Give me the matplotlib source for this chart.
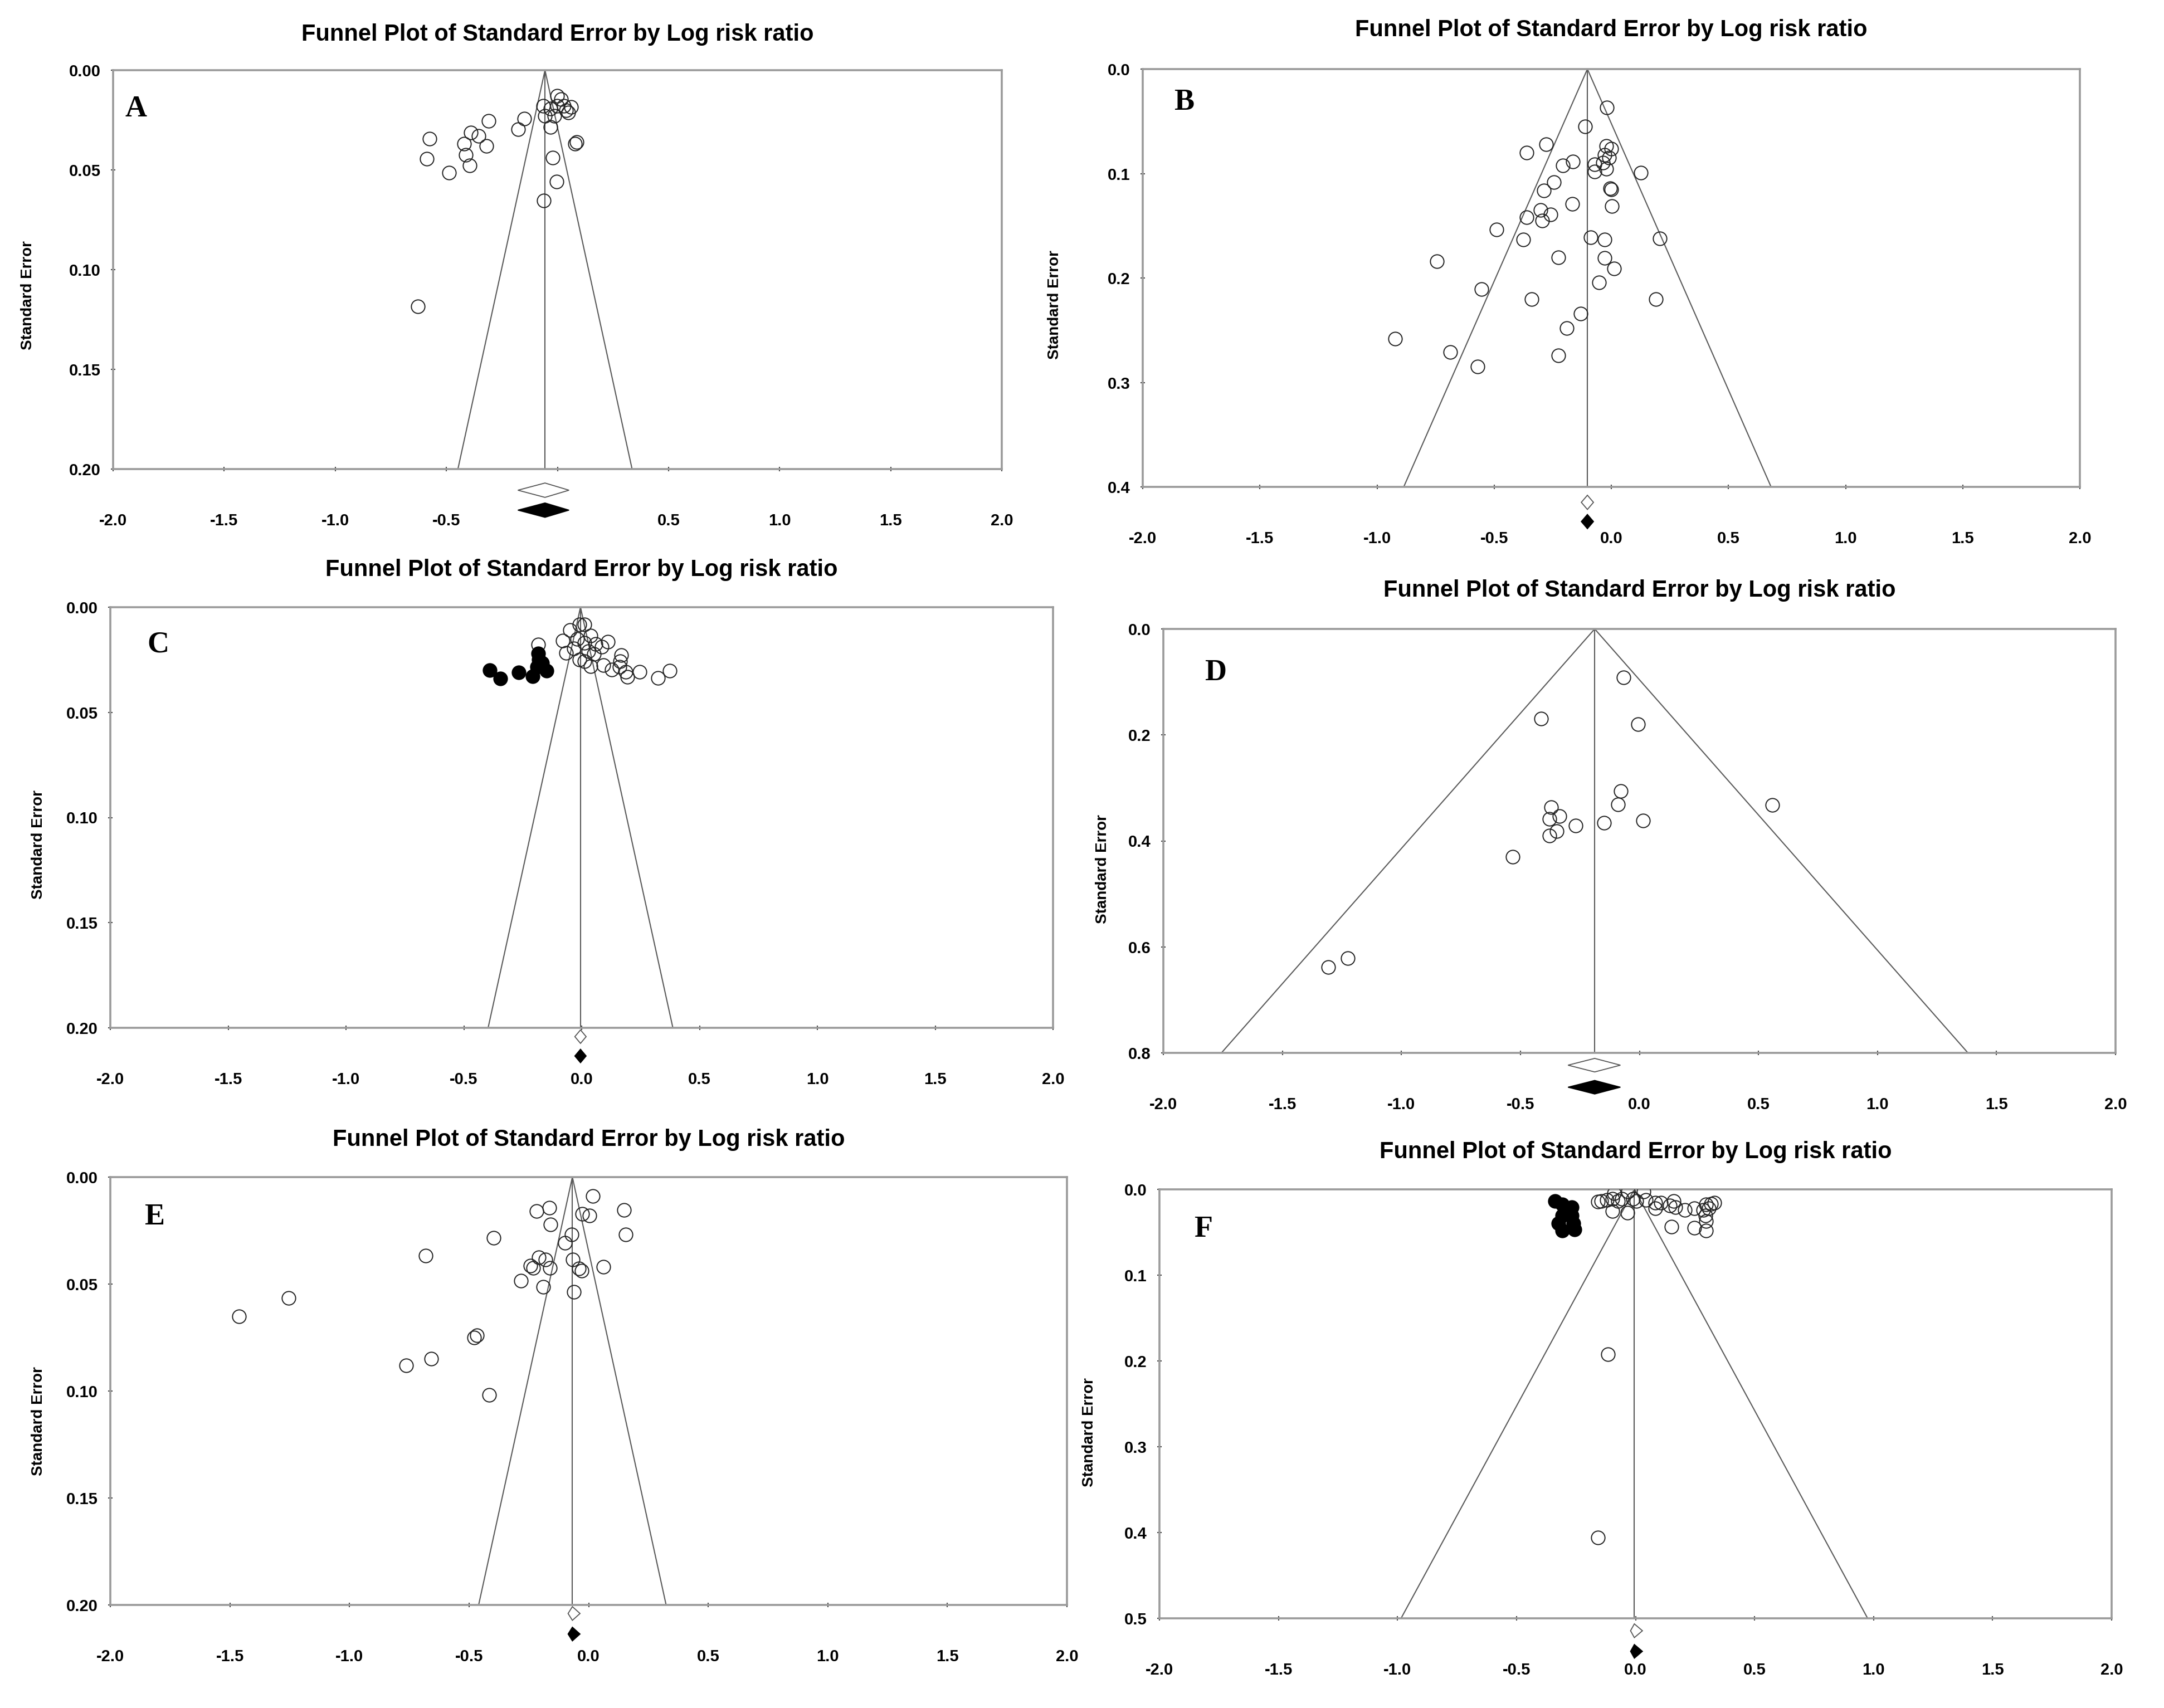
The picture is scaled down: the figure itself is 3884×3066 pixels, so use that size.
import matplotlib
matplotlib.use("Agg")
import matplotlib.pyplot as plt
from matplotlib.patches import Polygon
from matplotlib.transforms import blended_transform_factory

plt.rcParams["font.family"] = ["Liberation Sans", "DejaVu Sans"]

TITLE = "Funnel Plot of Standard Error by Log risk ratio"
XTICKS = [-2.0, -1.5, -1.0, -0.5, 0.0, 0.5, 1.0, 1.5, 2.0]
XTICKLABELS = ["-2.0", "-1.5", "-1.0", "-0.5", "0.0", "0.5", "1.0", "1.5", "2.0"]
XTICKLABELS_A = ["-2.0", "-1.5", "-1.0", "-0.5", "", "0.5", "1.0", "1.5", "2.0"]

# ---- panel A ----
a_x = [-0.576, -0.588, -0.487, -0.421, -0.412, -0.395, -0.389, -0.356, -0.320, -0.309,
       -0.177, -0.148, -0.064, -0.056, -0.031, -0.014, -0.031, -0.001, 0.016, -0.001,
       0.028, 0.040, 0.061, 0.048, 0.087, 0.078, -0.021, -0.003, -0.062, -0.629]
a_se = [0.0343, 0.0444, 0.0513, 0.0369, 0.0425, 0.0478, 0.0313, 0.0331, 0.0381, 0.0255,
        0.0295, 0.0244, 0.0179, 0.0230, 0.0286, 0.0230, 0.0193, 0.0128, 0.0146, 0.0179,
        0.0179, 0.0202, 0.0184, 0.0211, 0.0360, 0.0370, 0.0439, 0.0560, 0.0653, 0.1185]
a_center = -0.056
a_ci = [-0.178, 0.052]
a_ci_adj = [-0.178, 0.052]
a_yticks = [0.00, 0.05, 0.10, 0.15, 0.20]

# ---- panel B ----
b_x = [-0.020, -0.112, -0.279, -0.361, -0.165, -0.207, -0.021, -0.001, -0.029, -0.009,
       -0.036, -0.072, -0.072, -0.021, 0.126, -0.245, -0.288, -0.005, 0.000, -0.167,
       0.003, -0.303, -0.260, -0.294, -0.361, -0.489, -0.376, -0.087, -0.029, 0.206,
       -0.227, -0.029, 0.011, -0.745, -0.053, -0.553, -0.340, 0.190, -0.130, -0.190,
       -0.922, -0.687, -0.227, -0.571]
b_se = [0.037, 0.055, 0.072, 0.080, 0.0885, 0.092, 0.0734, 0.076, 0.0823, 0.085,
        0.0894, 0.0912, 0.0983, 0.0956, 0.0992, 0.108, 0.116, 0.114, 0.115, 0.129,
        0.131, 0.135, 0.139, 0.145, 0.142, 0.1535, 0.163, 0.161, 0.163, 0.162,
        0.180, 0.181, 0.191, 0.184, 0.204, 0.2105, 0.220, 0.220, 0.234, 0.248,
        0.258, 0.271, 0.274, 0.285]
b_center = -0.102
b_ci = [-0.128, -0.076]
b_ci_adj = [-0.128, -0.076]
b_yticks = [0.0, 0.1, 0.2, 0.3, 0.4]

# ---- panel C ----
c_x = [-0.185, 0.013, -0.010, -0.050, 0.037, -0.081, -0.018, 0.013, 0.060, 0.112,
       0.084, -0.066, -0.034, 0.029, 0.053, -0.010, 0.013, 0.037, 0.092, 0.127,
       0.167, 0.163, 0.160, 0.186, 0.194, 0.246, 0.324, 0.374]
c_se = [0.0178, 0.0081, 0.0081, 0.0108, 0.0134, 0.0160, 0.0152, 0.0169, 0.0174, 0.0165,
        0.0187, 0.0218, 0.0196, 0.0209, 0.0222, 0.0249, 0.0257, 0.0280, 0.0275, 0.0297,
        0.0229, 0.0257, 0.0284, 0.0306, 0.0332, 0.0306, 0.0337, 0.0302]
c_fill_x = [-0.390, -0.345, -0.267, -0.184, -0.183, -0.209, -0.188, -0.148, -0.168]
c_fill_se = [0.0300, 0.0339, 0.0309, 0.0220, 0.0249, 0.0328, 0.0284, 0.0302, 0.0266]
c_center = -0.005
c_ci = [-0.029, 0.019]
c_ci_adj = [-0.029, 0.019]
c_yticks = [0.00, 0.05, 0.10, 0.15, 0.20]

# ---- panel D ----
d_x = [-0.066, -0.412, -0.007, -0.078, -0.090, 0.559, -0.371, -0.336, -0.377, -0.269,
       -0.148, 0.016, -0.348, -0.377, -0.533, -1.225, -1.307]
d_se = [0.0914, 0.169, 0.180, 0.3056, 0.331, 0.332, 0.336, 0.353, 0.359, 0.371,
        0.366, 0.3615, 0.382, 0.390, 0.430, 0.621, 0.638]
d_center = -0.188
d_ci = [-0.30, -0.08]
d_ci_adj = [-0.30, -0.08]
d_yticks = [0.0, 0.2, 0.4, 0.6, 0.8]

# ---- panel E ----
e_x = [0.017, 0.148, -0.217, -0.165, -0.026, 0.003, -0.159, -0.397, -0.070, 0.154,
       -0.099, -0.681, -0.209, -0.180, -0.067, -0.243, -0.232, -0.162, -0.041, -0.029,
       0.061, -0.284, -0.191, -0.061, -1.255, -1.461, -0.467, -0.478, -0.658, -0.762,
       -0.417]
e_se = [0.0088, 0.0154, 0.0159, 0.0143, 0.0173, 0.0180, 0.0221, 0.0283, 0.0267, 0.0269,
        0.0306, 0.0367, 0.0376, 0.0385, 0.0385, 0.0415, 0.0424, 0.0424, 0.0428, 0.0438,
        0.0420, 0.0484, 0.0514, 0.0537, 0.0564, 0.0650, 0.0740, 0.0749, 0.0848, 0.0880,
        0.1018]
e_center = -0.068
e_ci = [-0.086, -0.036]
e_ci_adj = [-0.086, -0.036]
e_yticks = [0.00, 0.05, 0.10, 0.15, 0.20]

# ---- panel F ----
f_x = [-0.159, -0.144, -0.120, -0.097, -0.089, -0.074, -0.058, -0.097, -0.035, -0.031,
       -0.011, 0.004, 0.035, 0.043, 0.082, 0.082, 0.106, 0.145, 0.160, 0.168,
       0.207, 0.246, 0.285, 0.296, 0.316, 0.331, 0.308, 0.293, 0.296, 0.152,
       0.246, 0.296, -0.116, -0.157]
f_se = [0.0145, 0.0134, 0.0124, 0.0113, 0.0048, 0.0134, 0.0113, 0.0254, 0.0275, 0.0026,
        0.0113, 0.0134, 0.0026, 0.0124, 0.0156, 0.0221, 0.0156, 0.0189, 0.0134, 0.0210,
        0.0243, 0.0221, 0.0243, 0.0178, 0.0167, 0.0156, 0.0221, 0.0308, 0.0373, 0.0438,
        0.0449, 0.0481, 0.192, 0.406]
f_fill_x = [-0.338, -0.307, -0.268, -0.307, -0.268, -0.323, -0.260, -0.307, -0.256, -0.292]
f_fill_se = [0.0134, 0.0178, 0.0210, 0.0308, 0.0308, 0.0394, 0.0394, 0.0481, 0.0470, 0.0243]
f_center = -0.005
f_ci = [-0.021, 0.029]
f_ci_adj = [-0.021, 0.029]
f_yticks = [0.0, 0.1, 0.2, 0.3, 0.4, 0.5]

W, H = 3884, 3066


def _rect(x0, y0, x1, y1):
    return [x0 / W, 1 - y1 / H, (x1 - x0) / W, (y1 - y0) / H]


def _diamond(ax, ci, center, yc, hh, filled):
    tr = blended_transform_factory(ax.transData, ax.transAxes)
    pts = [(ci[0], yc), (center, yc + hh), (ci[1], yc), (center, yc - hh)]
    ax.add_patch(Polygon(pts, closed=True, transform=tr, clip_on=False,
                         facecolor="black" if filled else "white",
                         edgecolor="black" if filled else "#555555",
                         linewidth=1.3, zorder=5))


def draw_panel(ax, p):
    se_max = p["yticks"][-1]
    c = p["center"]
    # funnel and mean line
    ax.plot([c - 1.96 * se_max, c, c + 1.96 * se_max], [se_max, 0, se_max],
            color="#5a5a5a", linewidth=1.5, zorder=2)
    ax.plot([c, c], [0, se_max], color="#5a5a5a", linewidth=1.5, zorder=2)

    ax.plot(p["x"], p["se"], "o", ms=17.5, mfc="none", mec="#222222", mew=1.4, zorder=4)
    if p.get("fx") is not None:
        ax.plot(p["fx"], p["fse"], "o", ms=17.5, mfc="black", mec="black", mew=1.4, zorder=4)

    ax.set_xlim(-2, 2)
    ax.set_ylim(se_max, 0)
    ax.set_xticks(XTICKS)
    ax.set_xticklabels(p["xtl"])
    ax.set_yticks(p["yticks"])
    ax.set_yticklabels([p["yfmt"].format(v) for v in p["yticks"]])
    ax.tick_params(axis="x", direction="inout", length=6, width=1.5, color="#444444",
                   pad=54, labelsize=21)
    ax.tick_params(axis="y", direction="inout", length=6, width=1.5, color="#444444",
                   pad=13, labelsize=21)
    for lab in ax.get_xticklabels() + ax.get_yticklabels():
        lab.set_fontweight("bold")
    for sp in ax.spines.values():
        sp.set_color("#9a9a9a")
        sp.set_linewidth(2.6)

    _diamond(ax, p["ci"], c, p["dy"][0], p["hh"], False)
    _diamond(ax, p["ci_adj"], c, p["dy"][1], p["hh"], True)

    ax.text(0.5, p["ty"], TITLE, transform=ax.transAxes, ha="center", va="center",
            fontsize=30, fontweight="bold")
    ax.text(p["yl"][0], p["yl"][1], "Standard Error", transform=ax.transAxes,
            rotation=90, ha="center", va="center", fontsize=20, fontweight="bold")
    ax.text(p["let"][0], p["let"][1], p["letter"], transform=ax.transAxes,
            ha="center", va="center", fontsize=39, fontweight="bold",
            family=["Liberation Serif", "DejaVu Serif"])


panels = [
    dict(letter="A", rect=_rect(203, 126, 1798, 842), x=a_x, se=a_se, center=a_center,
         ci=a_ci, ci_adj=a_ci_adj, yticks=a_yticks, yfmt="{:.2f}", xtl=XTICKLABELS_A,
         dy=(-0.053, -0.103), hh=0.018, ty=1.089, yl=(-0.096, 0.436), let=(0.026, 0.902)),
    dict(letter="B", rect=_rect(2051, 124, 3733, 874), x=b_x, se=b_se, center=b_center,
         ci=b_ci, ci_adj=b_ci_adj, yticks=b_yticks, yfmt="{:.1f}", xtl=XTICKLABELS,
         dy=(-0.037, -0.083), hh=0.017, ty=1.093, yl=(-0.094, 0.436), let=(0.044, 0.92)),
    dict(letter="C", rect=_rect(198, 1090, 1890, 1845), x=c_x, se=c_se, fx=c_fill_x,
         fse=c_fill_se, center=c_center, ci=c_ci, ci_adj=c_ci_adj, yticks=c_yticks,
         yfmt="{:.2f}", xtl=XTICKLABELS, dy=(-0.021, -0.067), hh=0.016, ty=1.089,
         yl=(-0.076, 0.436), let=(0.051, 0.91)),
    dict(letter="D", rect=_rect(2088, 1129, 3797, 1890), x=d_x, se=d_se, center=d_center,
         ci=d_ci, ci_adj=d_ci_adj, yticks=d_yticks, yfmt="{:.1f}", xtl=XTICKLABELS,
         dy=(-0.029, -0.081), hh=0.016, ty=1.091, yl=(-0.064, 0.433), let=(0.055, 0.896)),
    dict(letter="E", rect=_rect(198, 2113, 1915, 2881), x=e_x, se=e_se, center=e_center,
         ci=e_ci, ci_adj=e_ci_adj, yticks=e_yticks, yfmt="{:.2f}", xtl=XTICKLABELS,
         dy=(-0.020, -0.068), hh=0.016, ty=1.087, yl=(-0.075, 0.43), let=(0.046, 0.906)),
    dict(letter="F", rect=_rect(2081, 2135, 3790, 2905), x=f_x, se=f_se, fx=f_fill_x,
         fse=f_fill_se, center=f_center, ci=f_ci, ci_adj=f_ci_adj, yticks=f_yticks,
         yfmt="{:.1f}", xtl=XTICKLABELS, dy=(-0.029, -0.077), hh=0.016, ty=1.087,
         yl=(-0.074, 0.434), let=(0.046, 0.907)),
]

fig = plt.figure(figsize=(W / 100, H / 100), dpi=100)
for p in panels:
    ax = fig.add_axes(p["rect"])
    draw_panel(ax, p)

fig.savefig("out.png", dpi=100, facecolor="white")
